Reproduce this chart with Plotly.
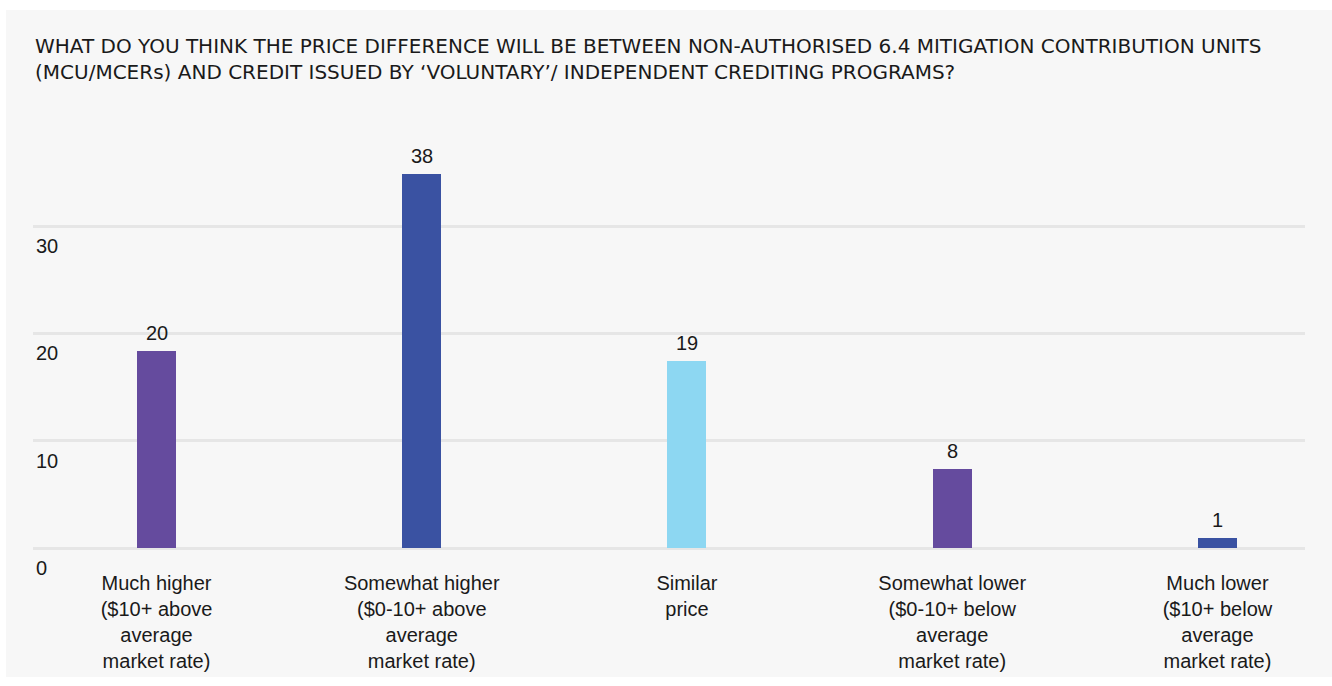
import plotly.graph_objects as go

# Survey responses: expected price gap between non-authorised 6.4 MCUs and voluntary credits
categories = [
    "Much higher<br>($10+ above<br>average<br>market rate)",
    "Somewhat higher<br>($0-10+ above<br>average<br>market rate)",
    "Similar<br>price",
    "Somewhat lower<br>($0-10+ below<br>average<br>market rate)",
    "Much lower<br>($10+ below<br>average<br>market rate)",
]
responses = [20, 38, 19, 8, 1]
bar_colors = ["#654b9e", "#3a52a2", "#8dd7f2", "#654b9e", "#3a52a2"]
grid_ticks = [0, 10, 20, 30]

title_text = (
    "WHAT DO YOU THINK THE PRICE DIFFERENCE WILL BE BETWEEN NON-AUTHORISED 6.4 "
    "MITIGATION CONTRIBUTION UNITS<br>(MCU/MCERs) AND CREDIT ISSUED BY "
    "\u2018VOLUNTARY\u2019/ INDEPENDENT CREDITING PROGRAMS?"
)

W, H = 1332, 686
base_y = 548          # pixel row of the zero line
plot_bottom = 590     # plot area runs a little below zero so the "0" label fits inside
left, right, top = 33, 27, 140
bottom = H - plot_bottom
plot_w = W - left - right
plot_h = H - top - bottom

grid_px_per_unit = 10.73
bar_px_per_unit = 9.85
below_px = plot_bottom - base_y


def py(pixel_row):
    """Paper fraction for a pixel row of the page."""
    return (plot_bottom - pixel_row) / plot_h


FONT = "Liberation Sans, Arial, sans-serif"
TITLE_FONT = "DejaVu Sans, sans-serif"
INK = "#1a1a1a"
x_pos = list(range(len(categories)))

fig = go.Figure()

# empty trace so the gridline axis (x/y) is laid out
fig.add_trace(go.Scatter(x=[], y=[], hoverinfo="skip", showlegend=False))

fig.add_trace(
    go.Bar(
        x=x_pos,
        y=responses,
        marker=dict(color=bar_colors, line=dict(width=0)),
        width=0.147,
        yaxis="y2",
        hoverinfo="x+y",
    )
)

# value labels above each bar
for xi, v in zip(x_pos, responses):
    fig.add_annotation(
        x=xi, y=v, xref="x", yref="y2",
        text=str(v), showarrow=False,
        yanchor="bottom", yshift=5,
        font=dict(family=FONT, size=20, color=INK),
    )

# two-line heading
fig.add_annotation(
    x=0, xref="paper", xanchor="left",
    y=py(59), yref="paper", yanchor="middle",
    text=title_text, showarrow=False, align="left",
    font=dict(family=TITLE_FONT, size=20, color=INK),
)

# light grey panel behind the chart
fig.add_shape(
    type="rect",
    xref="paper", yref="paper",
    x0=(6 - left) / plot_w, x1=(W - left) / plot_w,
    y0=py(677), y1=py(10),
    fillcolor="#f7f7f7", line=dict(width=0), layer="below",
)

fig.update_layout(
    width=W, height=H,
    margin=dict(l=left, r=right, t=top, b=bottom),
    paper_bgcolor="white",
    plot_bgcolor="rgba(0,0,0,0)",
    showlegend=False,
    bargap=0,
    font=dict(family=FONT, color=INK),
    xaxis=dict(
        tickmode="array",
        tickvals=x_pos,
        ticktext=categories,
        range=[-0.4656, 4.33],
        anchor="free",
        position=py(base_y),
        showgrid=False, zeroline=False, showline=False,
        ticks="",
        tickfont=dict(family=FONT, size=20, color=INK),
        ticklabelstandoff=21,
    ),
    yaxis=dict(
        range=[-below_px / grid_px_per_unit, (base_y - top) / grid_px_per_unit],
        tickmode="array",
        tickvals=grid_ticks,
        showgrid=True, gridcolor="#e6e6e6", gridwidth=2.5,
        zeroline=False, showline=False,
        ticks="",
        ticklabelposition="inside",
        ticklabelstandoff=0,
        ticklabelshift=20,
        tickfont=dict(family=FONT, size=20, color=INK),
    ),
    yaxis2=dict(
        range=[-below_px / bar_px_per_unit, (base_y - top) / bar_px_per_unit],
        overlaying="y",
        visible=False,
    ),
)

fig.write_html("out.html")
